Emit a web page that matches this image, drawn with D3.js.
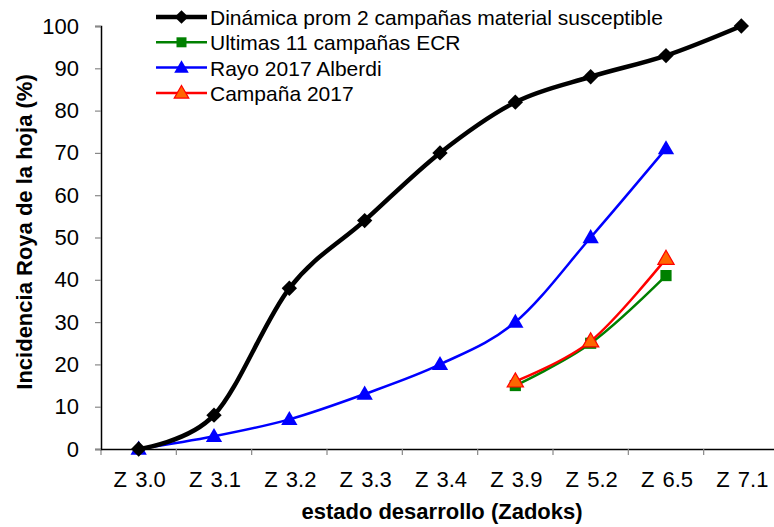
<!DOCTYPE html>
<html>
<head>
<meta charset="utf-8">
<script src="https://cdn.jsdelivr.net/npm/d3@7"></script>
<style>
  body { margin: 0; background: #fff; overflow: hidden; }
  text { font-family: "Liberation Sans", Arial, sans-serif; fill: #000; }
</style>
</head>
<body>
<script>
const categories = ['Z 3.0', 'Z 3.1', 'Z 3.2', 'Z 3.3', 'Z 3.4', 'Z 3.9', 'Z 5.2', 'Z 6.5', 'Z 7.1']
const dinamica = [0, 8, 38, 54, 70, 82, 88, 93, 100]
const rayo = [0, 3, 7, 13, 20, 30, 50, 71]
const ultimasCats = ['Z 3.9', 'Z 5.2', 'Z 6.5']
const ultimas = [15, 25, 41]
const campana = [16, 25.5, 45]
const yTicks = [0, 10, 20, 30, 40, 50, 60, 70, 80, 90, 100]

let width = 774,
    height = 527
let margin = {left: 101, right: -5, top: 26, bottom: 78}

let svg = d3.select('body').append('svg')
    .attr('width', width)
    .attr('height', height)

let x = d3.scaleBand()
    .domain(categories)
    .range([margin.left, width - margin.right])
let y = d3.scaleLinear()
    .domain([0, 100])
    .range([height - margin.bottom, margin.top])

let cx = c => x(c) + x.bandwidth() / 2

// axes
let xAxis = svg.append('g')
    .attr('transform', `translate(0,${y(0)})`)
    .call(d3.axisBottom(x).tickSize(0).tickPadding(22))
xAxis.select('.domain').attr('stroke', '#000').attr('stroke-width', 1.5)
xAxis.selectAll('text').style('font-size', '22px').style('word-spacing', '2px').attr('dx', 1)
// tick marks between bands
xAxis.selectAll('.sep')
    .data(categories).enter()
    .append('line')
    .attr('x1', d => x(d)).attr('x2', d => x(d))
    .attr('y1', 0).attr('y2', 6)
    .attr('stroke', '#888').attr('stroke-width', 1.2)

let yAxis = svg.append('g')
    .attr('transform', `translate(${margin.left},0)`)
    .call(d3.axisLeft(y).tickValues(yTicks).tickSize(6).tickPadding(16))
yAxis.select('.domain').attr('stroke', '#000').attr('stroke-width', 1.5)
yAxis.selectAll('.tick line').attr('stroke', '#888').attr('stroke-width', 1.2)
yAxis.selectAll('text').style('font-size', '22px')

svg.append('text')
    .attr('x', 442).attr('y', 519)
    .attr('text-anchor', 'middle')
    .style('font-size', '22px').style('font-weight', 'bold')
    .text('estado desarrollo (Zadoks)')

svg.append('text')
    .attr('transform', 'translate(32,232) rotate(-90)')
    .attr('text-anchor', 'middle')
    .style('font-size', '22px').style('font-weight', 'bold')
    .text('Incidencia Roya de la hoja (%)')

// series
let line = d3.line()
    .x(d => cx(d.c))
    .y(d => y(d.v))
    .curve(d3.curveCatmullRom.alpha(0))

let series = [
    {name: 'Dinámica prom 2 campañas material susceptible', cats: categories, vals: dinamica,
     stroke: '#000', fill: '#000', width: 4.5, symbol: d3.symbolDiamond2, size: 150},
    {name: 'Ultimas 11 campañas ECR', cats: ultimasCats, vals: ultimas,
     stroke: '#008000', fill: '#008000', width: 2.5, symbol: d3.symbolSquare, size: 125},
    {name: 'Rayo 2017 Alberdi', cats: categories, vals: rayo,
     stroke: '#0000ff', fill: '#0000ff', width: 2.5, symbol: d3.symbolTriangle, size: 115},
    {name: 'Campaña 2017', cats: ultimasCats, vals: campana,
     stroke: '#ff0000', fill: '#ff6600', width: 2.5, symbol: d3.symbolTriangle, size: 115}
]

let drawOrder = [2, 1, 3, 0]
drawOrder.forEach(i => {
    let s = series[i]
    let pts = s.vals.map((v, j) => ({c: s.cats[j], v: v}))
    svg.append('path')
        .attr('d', line(pts))
        .attr('fill', 'none')
        .attr('stroke', s.stroke)
        .attr('stroke-width', s.width)
    svg.selectAll('.m' + i)
        .data(pts).enter()
        .append('path')
        .attr('class', 'm' + i)
        .attr('d', d3.symbol(s.symbol, s.size))
        .attr('transform', d => `translate(${cx(d.c)},${y(d.v) + (s.symbol === d3.symbolTriangle ? 1 : 0)})`)
        .attr('fill', s.fill)
        .attr('stroke', s.stroke)
        .attr('stroke-width', i === 3 ? 1.2 : 0)
})

// legend
let legend = svg.append('g')
    .attr('transform', 'translate(156,17)')
series.forEach((s, i) => {
    let row = legend.append('g').attr('transform', `translate(0,${i * 25.3})`)
    row.append('line')
        .attr('x1', 0).attr('x2', 51)
        .attr('stroke', s.stroke)
        .attr('stroke-width', s.width)
    row.append('path')
        .attr('d', d3.symbol(s.symbol, s.size * 0.8))
        .attr('transform', `translate(25.5,${s.symbol === d3.symbolTriangle ? 1 : 0})`)
        .attr('fill', s.fill)
        .attr('stroke', s.stroke)
        .attr('stroke-width', i === 3 ? 1.2 : 0)
    row.append('text')
        .attr('x', 54).attr('y', 8)
        .style('font-size', '21px')
        .text(s.name)
})
</script>
</body>
</html>
